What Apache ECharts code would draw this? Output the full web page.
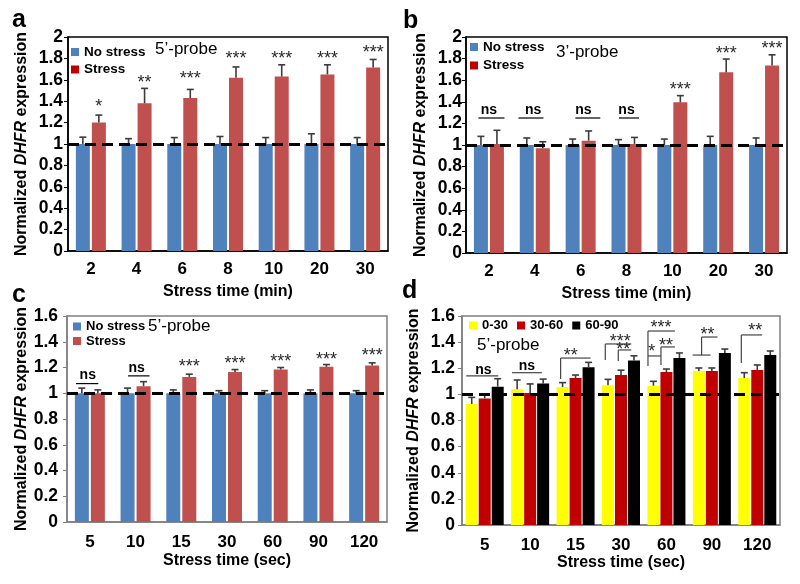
<!DOCTYPE html>
<html><head><meta charset="utf-8">
<script src="https://cdn.jsdelivr.net/npm/echarts@6/dist/echarts.min.js"></script>
<style>html,body{margin:0;padding:0;background:#fff}#c{width:800px;height:584px}</style>
</head><body><div id="c"></div>
<script>
// ---------- data ----------
const catsMin = ['2','4','6','8','10','20','30'];
const catsSec = ['5','10','15','30','60','90','120'];
const yTicksAB = [0,0.2,0.4,0.6,0.8,1,1.2,1.4,1.6,1.8,2];
const yTicksCD = [0,0.2,0.4,0.6,0.8,1,1.2,1.4,1.6];

// panel a (5'-probe, min)
const aNo = [1,1,1,1,1,1,1];
const aNoErr = [0.064,0.05,0.06,0.07,0.06,0.095,0.06];
const aSt = [1.20,1.38,1.43,1.62,1.63,1.65,1.715];
const aStErr = [0.07,0.14,0.08,0.10,0.11,0.09,0.075];
const aSig = ['*','**','***','***','***','***','***'];
const aSigY = [1.383,1.603,1.646,1.828,1.828,1.828,1.884];

// panel b (3'-probe, min)
const bNo = [1,1,1,1,1,1,1];
const bNoErr = [0.08,0.065,0.055,0.05,0.055,0.08,0.065];
const bSt = [1.01,0.97,1.04,1.01,1.395,1.673,1.735];
const bStErr = [0.126,0.06,0.09,0.06,0.062,0.123,0.1];
const bSig = ['ns','ns','ns','ns','***','***','***'];
const bSigY = [1.327,1.327,1.327,1.327,1.549,1.877,1.929];
const bSigSlot = [0,-0.1,0.17,0,0.5,0.5,0.5];
const bNsLines = [[0,-0.66,1.25,0.97,1.25],[1,-1.02,1.25,0.54,1.25],[2,-0.33,1.25,1.23,1.25],[3,-0.47,1.25,0.78,1.25]];

// panel c (5'-probe, sec)
const cNo = [1,1,1,1,1,1,1];
const cNoErr = [0.04,0.04,0.026,0.02,0.02,0.026,0.02];
const cSt = [1.0,1.055,1.127,1.166,1.184,1.205,1.215];
const cStErr = [0.026,0.035,0.021,0.018,0.016,0.018,0.021];
const cSig = ['ns','ns','***','***','***','***','***'];
const cSigY = [1.14,1.197,1.234,1.26,1.27,1.29,1.317];
const cSigSlot = [-0.13,0.07,0.5,0.5,0.5,0.5,0.5];
const cNsLines = [[0,-0.87,1.075,0.53,1.075],[1,-0.47,1.135,0.87,1.135]];

// panel d (5'-probe, sec, three groups)
const d030 = [0.926,1.04,1.056,1.07,1.066,1.179,1.125];
const d030Err = [0.051,0.07,0.034,0.045,0.034,0.023,0.041];
const d3060 = [0.969,1.01,1.125,1.148,1.171,1.179,1.187];
const d3060Err = [0.031,0.07,0.023,0.037,0.023,0.023,0.038];
const d6090 = [1.059,1.084,1.207,1.26,1.278,1.317,1.301];
const d6090Err = [0.061,0.033,0.038,0.035,0.039,0.03,0.031];
// significance brackets: [category, slot1, y1, slot2, y2]
const dSegs = [
  [0,-1.42,1.141,1.04,1.141],
  [1,-1.4,1.166,0.9,1.166],
  [2,-1.15,1.278,1.15,1.278],[2,-1.15,1.278,-1.15,1.118],
  [3,-1.21,1.386,0.79,1.386],[3,-1.21,1.386,-1.21,1.263],
  [3,-0.21,1.340,0.79,1.340],[3,-0.21,1.340,-0.21,1.255],
  [4,-1.42,1.485,0.65,1.485],[4,-1.42,1.485,-1.42,1.217],
  [4,-1.42,1.294,-0.42,1.294],
  [4,-0.42,1.363,0.65,1.363],[4,-0.42,1.363,-0.42,1.225],
  [5,-0.79,1.439,0.44,1.439],[5,-0.79,1.439,-0.79,1.301],[5,-1.48,1.301,-0.1,1.301],
  [6,-1.23,1.455,0.38,1.455],[6,-1.23,1.455,-1.23,1.240]
];
// labels: [category, slot, y, text]
const dLabels = [
  [0,-0.1,1.187,'ns'],[1,-0.25,1.217,'ns'],[2,-0.38,1.324,'**'],
  [3,-0.06,1.43,'***'],[3,0.17,1.37,'**'],
  [4,-0.42,1.539,'***'],[4,-1.12,1.355,'*'],[4,-0.04,1.40,'**'],
  [5,-0.33,1.485,'**'],[6,-0.15,1.516,'**']
];

// ---------- styling helpers ----------
const FONT = "'Liberation Sans', Arial, Helvetica, sans-serif";
const BLUE = '#4F81BD', RED = '#C0504D', YEL = '#FFFF00', DRED = '#C00000', BLK = '#000000';
const ERRC = '#3c3c3c';

function barS(name, gi, data, color, bw, gapPct) {
  return {type:'bar', name, xAxisIndex:gi, yAxisIndex:gi, data, barWidth:bw, barGap:gapPct,
    itemStyle:{color}, silent:true, z:2, animation:false};
}
function withDash(s) {
  s.markLine = {silent:true, symbol:['none','none'], label:{show:false},
    lineStyle:{type:[11,6], color:'#000', width:3}, data:[{yAxis:1}], animation:false};
  return s;
}
function errS(gi, vals, errs, idx, n, bw, gap) {
  return {type:'custom', xAxisIndex:gi, yAxisIndex:gi, silent:true, z:4, animation:false,
    data: vals.map((v,i)=>[i, v+errs[i]]),
    renderItem:(p, api)=>{
      const i = p.dataIndex;
      const b = api.coord([i, vals[i]]);
      const t = api.coord([i, vals[i]+errs[i]]);
      const total = n*bw + (n-1)*gap;
      const x = b[0] - total/2 + idx*(bw+gap) + bw/2;
      return {type:'group', children:[
        {type:'line', shape:{x1:x,y1:b[1],x2:x,y2:t[1]}, style:{stroke:ERRC,lineWidth:1.6}},
        {type:'line', shape:{x1:x-3.5,y1:t[1],x2:x+3.5,y2:t[1]}, style:{stroke:ERRC,lineWidth:1.6}}
      ]};
    }};
}
function segS(gi, segs, pitch, color) {
  return {type:'custom', xAxisIndex:gi, yAxisIndex:gi, silent:true, z:5, animation:false,
    data: segs.map(s=>[s[0], s[2]]),
    renderItem:(p, api)=>{
      const s = segs[p.dataIndex];
      const c = api.coord([s[0], 0])[0];
      const y1 = api.coord([s[0], s[2]])[1], y2 = api.coord([s[0], s[4]])[1];
      return {type:'line', shape:{x1:c+s[1]*pitch, y1, x2:c+s[3]*pitch, y2},
        style:{stroke:color, lineWidth:1.2}};
    }};
}
function txtS(gi, labels, pitch) {
  return {type:'custom', xAxisIndex:gi, yAxisIndex:gi, silent:true, z:6, animation:false,
    data: labels.map(s=>[s[0], s[2]]),
    renderItem:(p, api)=>{
      const s = labels[p.dataIndex];
      const c = api.coord([s[0], s[2]]);
      const star = s[3].indexOf('*') >= 0;
      return {type:'text', style:{text:s[3], x:c[0]+s[1]*pitch, y:c[1] + (star ? 4 : 0),
        align:'center', verticalAlign:'middle', fill: star ? '#2a2a2a' : '#000',
        font: star ? ('18px ' + FONT) : ('bold 14px ' + FONT)}};
    }};
}

function gridAxes(gi, cats, ticks, axisColor, lblMargin, xMargin, xNameGap, xName, yNameGap) {
  const max = ticks[ticks.length-1];
  return {
    x:{type:'category', gridIndex:gi, data:cats,
      axisLine:{show:true, lineStyle:{color:axisColor, width:1.5}}, axisTick:{show:false},
      axisLabel:{color:'#000', fontFamily:FONT, fontWeight:'bold', fontSize:17, margin:xMargin},
      name:xName, nameLocation:'middle', nameGap:xNameGap,
      nameTextStyle:{color:'#000', fontFamily:FONT, fontWeight:'bold', fontSize:16}},
    y:{type:'value', gridIndex:gi, min:0, max, interval:0.2,
      axisLine:{show:true, lineStyle:{color:axisColor, width:1.5}},
      axisTick:{show:true, length:4, inside:false, lineStyle:{color:axisColor, width:1}},
      splitLine:{show:false},
      axisLabel:{color:'#000', fontFamily:FONT, fontWeight:'bold', fontSize:17.5, margin:lblMargin,
        formatter:(v)=>String(Math.round(v*10)/10)},
      name:'Normalized {i|DHFR} expression', nameLocation:'middle', nameGap:yNameGap,
      nameTextStyle:{color:'#000', fontFamily:FONT, fontWeight:'bold', fontSize:16,
        rich:{i:{fontStyle:'italic', fontWeight:'bold', fontFamily:FONT, fontSize:16, color:'#000'}}}}
  };
}

const A = gridAxes(0, catsMin, yTicksAB, '#000', 5, 10, 33, 'Stress time (min)', 38);
const B = gridAxes(1, catsMin, yTicksAB, '#000', 4, 10, 33, 'Stress time (min)', 37);
const C = gridAxes(2, catsSec, yTicksCD, '#7f7f7f', 9, 12, 31, 'Stress time (sec)', 37);
const D = gridAxes(3, catsSec, yTicksCD, '#7f7f7f', 7, 12, 28, 'Stress time (sec)', 40);

const gridBase = {show:true, backgroundColor:'transparent', outerBoundsMode:'none', containLabel:false};
const legendText = {fontFamily:FONT, fontWeight:'bold', fontSize:13.5, color:'#000'};

const option = {
  animation:false,
  backgroundColor:'#fff',
  grid:[
    Object.assign({left:68, top:37, width:320, height:214, borderColor:'#000', borderWidth:1.5}, gridBase),
    Object.assign({left:466, top:37, width:321, height:216, borderColor:'#000', borderWidth:1.5}, gridBase),
    Object.assign({left:67, top:316, width:320, height:206, borderColor:'#7f7f7f', borderWidth:1.5}, gridBase),
    Object.assign({left:462, top:316, width:318, height:209, borderColor:'#7f7f7f', borderWidth:1.5}, gridBase)
  ],
  xAxis:[A.x, B.x, C.x, D.x],
  yAxis:[A.y, B.y, C.y, D.y],
  legend:[
    {data:[{name:'No stress', itemStyle:{color:BLUE}}, {name:'Stress', itemStyle:{color:DRED}}],
      orient:'vertical', left:71, top:45, itemWidth:8, itemHeight:8, itemGap:3.5, icon:'rect',
      textStyle:legendText, selectedMode:false, padding:0},
    {data:[{name:'No stress', itemStyle:{color:BLUE}}, {name:'Stress', itemStyle:{color:DRED}}],
      orient:'vertical', left:470, top:40, itemWidth:8, itemHeight:8, itemGap:4.5, icon:'rect',
      textStyle:legendText, selectedMode:false, padding:0},
    {data:['No stress','Stress'],
      orient:'vertical', left:73, top:320, itemWidth:8, itemHeight:8, itemGap:1.5, icon:'rect',
      textStyle:Object.assign({}, legendText, {fontSize:13}), selectedMode:false, padding:0},
    {data:['0-30','30-60','60-90'],
      orient:'horizontal', left:469, top:319, itemWidth:8, itemHeight:8, itemGap:9, icon:'rect',
      textStyle:Object.assign({}, legendText, {fontSize:13}), selectedMode:false, padding:0}
  ],
  graphic:[
    {type:'text', x:12, y:20, style:{text:'a', font:'bold 25px '+FONT, fill:'#000', verticalAlign:'middle'}},
    {type:'text', x:403, y:21, style:{text:'b', font:'bold 25px '+FONT, fill:'#000', verticalAlign:'middle'}},
    {type:'text', x:12, y:295, style:{text:'c', font:'bold 25px '+FONT, fill:'#000', verticalAlign:'middle'}},
    {type:'text', x:402, y:291, style:{text:'d', font:'bold 25px '+FONT, fill:'#000', verticalAlign:'middle'}},
    {type:'text', x:155, y:49, style:{text:'5\u2019-probe', font:'17px '+FONT, fill:'#000', verticalAlign:'middle'}},
    {type:'text', x:556, y:52, style:{text:'3\u2019-probe', font:'17px '+FONT, fill:'#000', verticalAlign:'middle'}},
    {type:'text', x:148, y:326, style:{text:'5\u2019-probe', font:'17px '+FONT, fill:'#000', verticalAlign:'middle'}},
    {type:'text', x:477, y:345, style:{text:'5\u2019-probe', font:'17px '+FONT, fill:'#000', verticalAlign:'middle'}}
  ],
  series:[
    // a
    barS('No stress', 0, aNo, BLUE, 14, '14.29%'),
    withDash(barS('Stress', 0, aSt, RED, 14, '14.29%')),
    errS(0, aNo, aNoErr, 0, 2, 14, 2), errS(0, aSt, aStErr, 1, 2, 14, 2),
    txtS(0, aSig.map((t,i)=>[i, 0.5, aSigY[i], t]), 16),
    // b
    barS('No stress', 1, bNo, BLUE, 14, '14.29%'),
    withDash(barS('Stress', 1, bSt, RED, 14, '14.29%')),
    errS(1, bNo, bNoErr, 0, 2, 14, 2), errS(1, bSt, bStErr, 1, 2, 14, 2),
    segS(1, bNsLines, 16, '#000'),
    txtS(1, bSig.map((t,i)=>[i, bSigSlot[i], bSigY[i], t]), 16),
    // c
    barS('No stress', 2, cNo, BLUE, 14, '14.29%'),
    withDash(barS('Stress', 2, cSt, RED, 14, '14.29%')),
    errS(2, cNo, cNoErr, 0, 2, 14, 2), errS(2, cSt, cStErr, 1, 2, 14, 2),
    segS(2, cNsLines, 16, '#000'),
    txtS(2, cSig.map((t,i)=>[i, cSigSlot[i], cSigY[i], t]), 16),
    // d
    barS('0-30', 3, d030, YEL, 12, '8.33%'),
    barS('30-60', 3, d3060, DRED, 12, '8.33%'),
    withDash(barS('60-90', 3, d6090, BLK, 12, '8.33%')),
    errS(3, d030, d030Err, 0, 3, 12, 1), errS(3, d3060, d3060Err, 1, 3, 12, 1), errS(3, d6090, d6090Err, 2, 3, 12, 1),
    segS(3, dSegs, 13, '#444'),
    txtS(3, dLabels, 13)
  ]
};
const chart = echarts.init(document.getElementById('c'), null, {renderer:'canvas'});
chart.setOption(option);
</script></body></html>
